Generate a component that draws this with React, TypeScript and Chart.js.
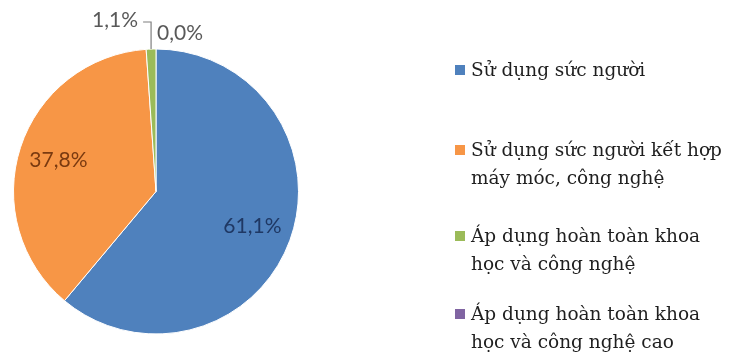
import React, { useEffect, useRef } from "react";
import { Chart, registerables } from "chart.js";

Chart.register(...registerables);

const categories = [
  "Sử dụng sức người",
  "Sử dụng sức người kết hợp máy móc, công nghệ",
  "Áp dụng hoàn toàn khoa học và công nghệ",
  "Áp dụng hoàn toàn khoa học và công nghệ cao",
];
const legendLines = [
  ["Sử dụng sức người"],
  ["Sử dụng sức người kết hợp", "máy móc, công nghệ"],
  ["Áp dụng hoàn toàn khoa", "học và công nghệ"],
  ["Áp dụng hoàn toàn khoa", "học và công nghệ cao"],
];
const values = [61.1, 37.8, 1.1, 0.0];
const colors = ["#4f81bd", "#f79646", "#9bbb59", "#8064a2"];
const labelColors = ["#1f3864", "#7a3a10", "#595959", "#595959"];

const fmt = (v: number) => v.toFixed(1).replace(".", ",") + "%";

const labelPlugin = {
  id: "pieLabels",
  afterDatasetsDraw(chart: any) {
    const ctx = chart.ctx;
    const meta = chart.getDatasetMeta(0);
    const top = chart.chartArea.top;
    ctx.save();
    ctx.font = "21px Lato";
    ctx.textBaseline = "middle";
    meta.data.forEach((arc: any, i: number) => {
      const p = arc.getProps(["x", "y", "startAngle", "endAngle", "outerRadius"], true);
      const mid = (p.startAngle + p.endAngle) / 2;
      const text = fmt(values[i]);
      ctx.fillStyle = labelColors[i];
      if (i < 2) {
        const f = 0.72;
        const lx = p.x + Math.cos(mid) * p.outerRadius * f;
        const ly = p.y + Math.sin(mid) * p.outerRadius * f;
        ctx.textAlign = "center";
        ctx.fillText(text, lx, ly);
      } else {
        const ax = p.x + Math.cos(mid) * p.outerRadius;
        const ay = p.y + Math.sin(mid) * p.outerRadius;
        if (i === 2) {
          const ty = top - 26;
          ctx.strokeStyle = "#7f7f7f";
          ctx.lineWidth = 1.2;
          ctx.beginPath();
          ctx.moveTo(ax, ay);
          ctx.lineTo(ax, ty);
          ctx.lineTo(ax - 8, ty);
          ctx.stroke();
          ctx.textAlign = "right";
          ctx.fillText(text, ax - 13, ty - 2);
        } else {
          ctx.textAlign = "left";
          ctx.fillText(text, ax + 1, top - 15);
        }
      }
    });
    ctx.restore();
  },
};

const itemTops = [56, 136, 222, 300];

export default function App() {
  const ref = useRef<HTMLCanvasElement>(null);
  useEffect(() => {
    document.body.style.margin = "0";
    const chart = new Chart(ref.current!, {
      type: "pie",
      data: {
        labels: categories,
        datasets: [
          {
            data: values,
            backgroundColor: colors,
            borderColor: "#ffffff",
            borderWidth: 1,
          },
        ],
      },
      options: {
        responsive: false,
        animation: false,
        layout: { padding: { top: 48, bottom: 19, left: 13, right: 431 } },
        plugins: {
          legend: { display: false },
          tooltip: { enabled: false },
        },
      },
      plugins: [labelPlugin],
    });
    return () => chart.destroy();
  }, []);
  return (
    <div style={{ position: "relative", width: 730, height: 354 }}>
      <canvas ref={ref} width={730} height={354} style={{ display: "block" }} />
      {legendLines.map((lines, i) => (
        <div
          key={i}
          style={{
            position: "absolute",
            left: 455,
            top: itemTops[i],
            fontFamily: "'DejaVu Serif', serif",
            fontSize: 18.5,
            lineHeight: "28px",
            color: "#1f1f1f",
            whiteSpace: "nowrap",
          }}
        >
          <span
            style={{
              display: "inline-block",
              width: 10,
              height: 10,
              background: colors[i],
              marginRight: 6,
              verticalAlign: "1px",
            }}
          />
          {lines.map((ln, j) => (
            <React.Fragment key={j}>
              {j > 0 && <br />}
              {j > 0 ? <span style={{ paddingLeft: 16 }}>{ln}</span> : ln}
            </React.Fragment>
          ))}
        </div>
      ))}
    </div>
  );
}
